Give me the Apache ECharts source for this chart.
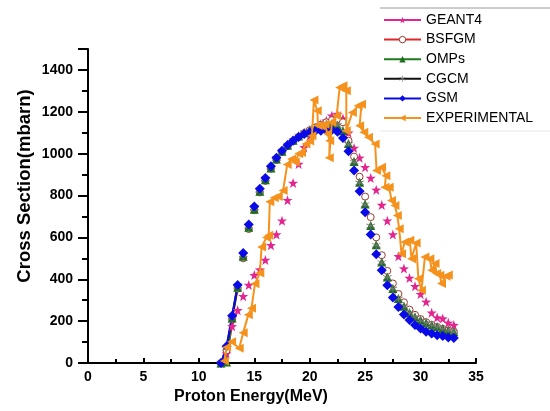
<!DOCTYPE html>
<html>
<head>
<meta charset="utf-8">
<script src="https://cdn.jsdelivr.net/npm/echarts@6/dist/echarts.min.js"></script>
<style>
  html, body { margin: 0; padding: 0; background: #fff; }
  #chart { width: 550px; height: 411px; }
</style>
</head>
<body>
<div id="chart"></div>
<script>
// Proton energy grid (MeV) shared by the model calculations
const energy = [12, 12.5, 13, 13.5, 14, 14.5, 15, 15.5, 16, 16.5, 17, 17.5, 18, 18.5, 19, 19.5, 20, 20.5, 21, 21.5, 22,
  22.5, 23, 23.5, 24, 24.5, 25, 25.5, 26, 26.5, 27, 27.5, 28, 28.5, 29, 29.5, 30, 30.5, 31, 31.5, 32, 32.5, 33];

// Cross sections (mbarn)
const geant4 = [0, 45, 175, 252, 319, 373, 420, 446, 492, 563, 614, 680, 778, 860, 951, 1030, 1085, 1120, 1141, 1157, 1181,
  1189, 1168, 1100, 1027, 980, 935, 884, 827, 755, 680, 614, 510, 451, 406, 367, 329, 292, 240, 217, 212, 192, 181];
const bsfgm = [0, 60, 210, 355, 500, 640, 730, 815, 870, 928, 970, 1008, 1036, 1060, 1080, 1098, 1112, 1125, 1138, 1150, 1160,
  1165, 1150, 1062, 986, 890, 795, 697, 600, 515, 440, 380, 330, 290, 255, 230, 210, 195, 182, 172, 163, 155, 148];
const omps = [0, 5, 215, 362, 510, 648, 735, 820, 875, 932, 975, 1012, 1040, 1064, 1084, 1100, 1112, 1122, 1130, 1138, 1141,
  1135, 1110, 1049, 963, 863, 760, 657, 565, 482, 411, 356, 308, 271, 240, 220, 205, 192, 181, 173, 165, 157, 149];
const cgcm = [0, 70, 220, 368, 518, 655, 742, 826, 880, 936, 978, 1013, 1041, 1064, 1084, 1100, 1113, 1124, 1133, 1140, 1143,
  1135, 1108, 1045, 960, 860, 757, 655, 562, 480, 409, 354, 306, 269, 239, 219, 203, 190, 180, 171, 163, 156, 148];
const gsm = [0, 80, 226, 373, 525, 662, 748, 832, 884, 940, 980, 1014, 1041, 1062, 1080, 1094, 1102, 1108, 1110, 1111, 1113,
  1105, 1075, 1011, 920, 820, 720, 614, 519, 443, 371, 313, 268, 232, 205, 181, 165, 149, 141, 133, 129, 122, 119];

// Measured data (energy, cross section), in measurement order
const expEnergy = [12.3, 12.5, 12.95, 13.64, 14.0, 14.46, 14.75, 15.06, 15.5, 15.66, 16.1, 16.3, 16.4, 16.8, 17.16, 17.6,
  17.97, 18.36, 18.7, 19.0, 19.26, 19.66, 20.0, 20.2, 20.38, 20.68, 20.75, 21.0, 21.37, 21.6, 21.8, 21.76, 22.0, 22.43,
  22.7, 23.0, 23.3, 23.3, 23.85, 24.37, 24.67, 24.5, 24.88, 25.3, 25.9, 26.03, 26.48, 26.87, 26.78, 27.17, 27.38, 27.68,
  27.9, 28.07, 28.28, 28.58, 29.03, 29.18, 29.6, 29.8, 30.08, 30.39, 30.84, 31.0, 31.3, 31.45, 31.74, 31.89, 32.3, 32.5];
const expSigma = [10, 75, 101, 70, 145, 230, 262, 378, 430, 554, 600, 610, 770, 790, 795, 824,
  948, 975, 960, 1000, 1006, 1046, 1060, 1086, 1256, 1205, 1135, 1133, 1141, 1095, 1062, 980, 1150, 1181,
  1316, 1324, 1300, 1110, 1197, 1229, 1236, 1133, 1102, 1078, 1046, 919, 935, 895, 840, 840, 776, 752,
  705, 641, 522, 578, 586, 498, 573, 403, 348, 506, 498, 443, 475, 427, 419, 380, 414, 420];

// Number of leading points joined by a line near threshold
const thresholdPoints = 4;

const STAR = 'path://M0,-10L2.35,-3.24L9.51,-3.09L3.8,1.24L5.88,8.09L0,4L-5.88,8.09L-3.8,1.24L-9.51,-3.09L-2.35,-3.24Z';
const ASTER = 'path://M-0.8,-10H0.8V-1.4L7.5,-5.3L8.3,-3.9L1.6,0L8.3,3.9L7.5,5.3L0.8,1.4V10H-0.8V1.4L-7.5,5.3L-8.3,3.9L-1.6,0L-8.3,-3.9L-7.5,-5.3L-0.8,-1.4Z';

const models = [
  { name: 'GEANT4', y: geant4, line: '#e3268f', symbol: STAR, size: 10, fill: '#e3268f', border: '#e3268f', bw: 0 },
  { name: 'BSFGM', y: bsfgm, line: '#e0262b', symbol: 'circle', size: 7, fill: '#ffffff', border: '#9a3b2e', bw: 1 },
  { name: 'OMPs', y: omps, line: '#1d7a1d', symbol: 'triangle', size: 9, fill: '#1d6e1d', border: '#1d6e1d', bw: 0 },
  { name: 'CGCM', y: cgcm, line: '#111111', symbol: ASTER, size: 9, fill: '#777777', border: '#777777', bw: 0 },
  { name: 'GSM', y: gsm, line: '#0a0ae8', symbol: 'diamond', size: 10, fill: '#0a0ae8', border: '#0a0ae8', bw: 0 }
];
const expColor = '#f5921e';

const pairs = (xs, ys) => xs.map((x, i) => [x, ys[i]]);

const series = [];
models.forEach(m => {
  series.push({
    type: 'line',
    data: pairs(energy, m.y).slice(0, thresholdPoints),
    showSymbol: false,
    silent: true,
    lineStyle: { color: m.line, width: 2 },
    z: 2
  });
  series.push({
    name: m.name,
    type: 'line',
    data: pairs(energy, m.y),
    symbol: m.symbol,
    symbolSize: m.size,
    itemStyle: { color: m.fill, borderColor: m.border, borderWidth: m.bw },
    lineStyle: { width: 0, opacity: 0, color: m.line },
    z: 3
  });
});
series.push({
  name: 'EXPERIMENTAL',
  type: 'line',
  data: pairs(expEnergy, expSigma),
  symbol: 'triangle',
  symbolRotate: 90,
  symbolSize: 9,
  itemStyle: { color: expColor },
  lineStyle: { color: expColor, width: 2 },
  z: 5
});

const legendData = models.map(m => ({
  name: m.name,
  itemStyle: { color: m.fill, borderColor: m.border, borderWidth: m.bw },
  lineStyle: { color: m.line, width: 2, opacity: 1 }
}));
legendData.push({ name: 'EXPERIMENTAL', lineStyle: { color: expColor, width: 2, opacity: 1 } });

const font = 'Liberation Sans, Arial, sans-serif';
const chart = echarts.init(document.getElementById('chart'), null, { renderer: 'canvas' });
chart.setOption({
  animation: false,
  backgroundColor: '#ffffff',
  grid: { left: 88, right: 74, top: 49, bottom: 48, containLabel: false },
  xAxis: {
    type: 'value', min: 0, max: 35, interval: 5,
    axisLine: { onZero: false, lineStyle: { color: '#000', width: 2 } },
    axisTick: { inside: true, length: 5, lineStyle: { color: '#000', width: 2 } },
    minorTick: { show: true, splitNumber: 2, length: 4, lineStyle: { color: '#000', width: 2 } },
    axisLabel: { color: '#000', fontFamily: font, fontWeight: 'bold', fontSize: 14, margin: 7 },
    splitLine: { show: false }
  },
  yAxis: {
    type: 'value', min: 0, max: 1500, interval: 200,
    axisLine: { show: true, onZero: false, lineStyle: { color: '#000', width: 2 } },
    axisTick: { show: true, inside: false, length: 10, lineStyle: { color: '#000', width: 2 } },
    minorTick: { show: true, splitNumber: 2, length: 6, lineStyle: { color: '#000', width: 2 } },
    axisLabel: {
      color: '#000', fontFamily: font, fontWeight: 'bold', fontSize: 14, margin: 15,
      formatter: v => (v % 200 === 0 ? String(v) : '')
    },
    splitLine: { show: false }
  },
  legend: {
    data: legendData,
    orient: 'vertical',
    left: 383, top: 13,
    itemWidth: 37, itemHeight: 8, itemGap: 5.6,
    padding: 0,
    textStyle: { fontFamily: font, fontSize: 14, color: '#000', padding: [0, 0, 0, 0] },
    selectedMode: false
  },
  graphic: [
    { type: 'line', shape: { x1: 380, y1: 8, x2: 550, y2: 8 }, style: { stroke: '#9a9a9a', lineWidth: 1 }, silent: true },
    { type: 'line', shape: { x1: 380, y1: 131, x2: 550, y2: 131 }, style: { stroke: '#e6e6e6', lineWidth: 1 }, silent: true },
    {
      type: 'text', x: 25, y: 186, rotation: Math.PI / 2,
      style: { text: 'Cross Section(mbarn)', fill: '#000', font: 'bold 18.5px ' + font, align: 'center', verticalAlign: 'middle' }
    },
    {
      type: 'text', x: 251, y: 397,
      style: { text: 'Proton Energy(MeV)', fill: '#000', font: 'bold 16px ' + font, align: 'center', verticalAlign: 'middle' }
    }
  ],
  series: series
});
</script>
</body>
</html>
